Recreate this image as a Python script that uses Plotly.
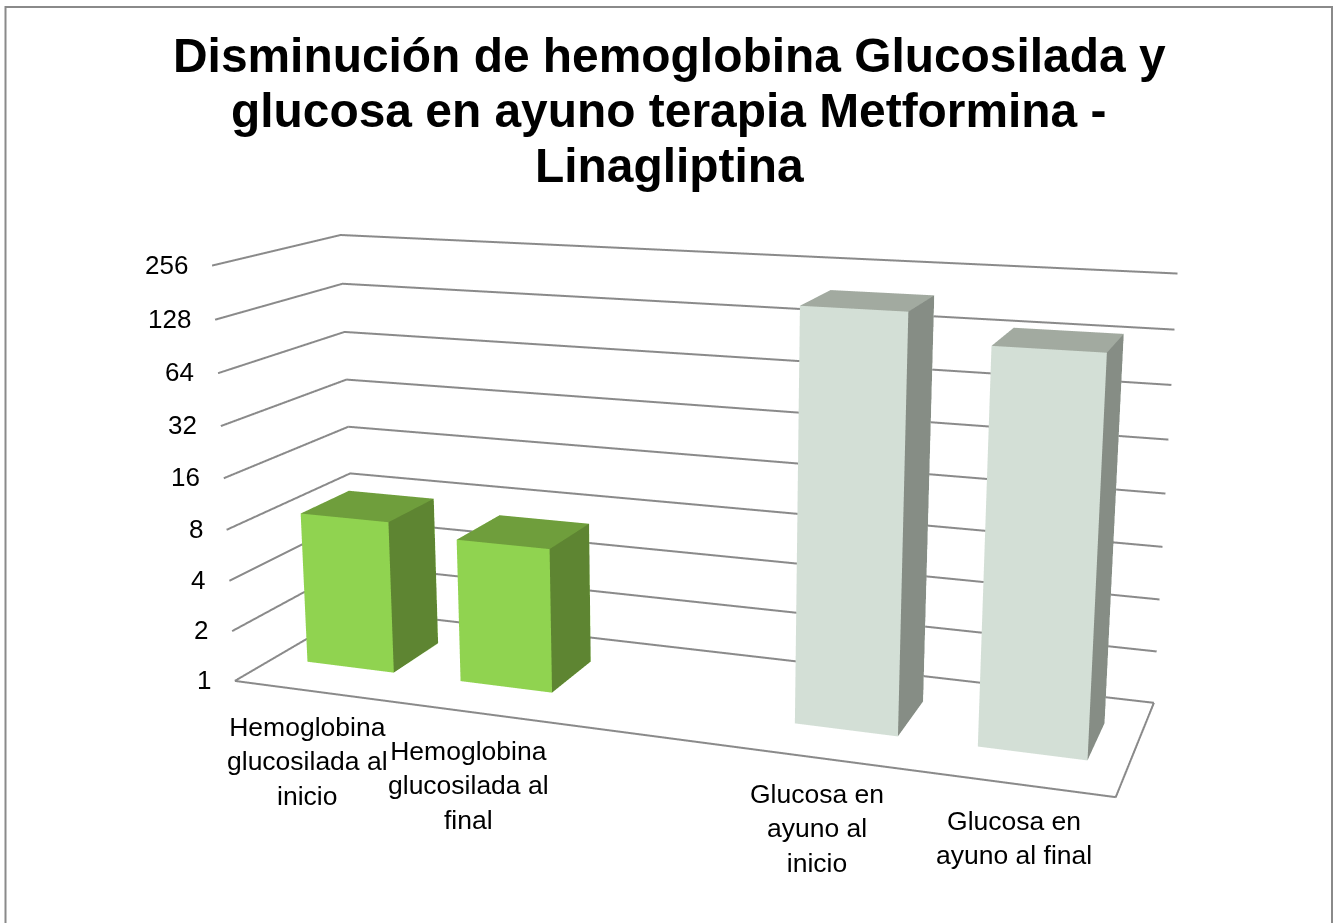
import numpy as np
import plotly.graph_objects as go

categories = ["Hemoglobina<br>glucosilada al<br>inicio", "Hemoglobina<br>glucosilada al<br>final", "", "Glucosa en<br>ayuno al<br>inicio", "Glucosa en<br>ayuno al final"]
values = [8.1, 7.0, None, 195, 138]
tick_values = [1, 2, 4, 8, 16, 32, 64, 128, 256]
title_lines = ["Disminución de hemoglobina Glucosilada y", "glucosa en ayuno terapia Metformina -", "Linagliptina"]

# The scene's field of view is fixed, so a long lens needs a tall scene centred on the window.
H_FIG = 1697
TOP = -387
def py(pix):
    return 1 - (pix - TOP) / H_FIG

GREEN = ("#90D350", "#6F9E3C", "#5E8532")
GREY = ("#D3DFD6", "#A2AAA0", "#868D85")
LINE = "#8a8a8a"
XL, W, Y0, Y1 = 0.221, 0.571, 0.308, 0.709
zmax = np.log2(tick_values[-1])

fig = go.Figure()
I = [0,0,4,4,0,0,1,1,3,3,0,0]
J = [1,2,5,6,1,5,2,6,2,6,3,7]
K = [2,3,6,7,5,4,6,5,6,7,7,4]
for i, v in enumerate(values):
    if v is None:
        continue
    h = float(np.log2(v))
    x0, x1 = i + XL, i + XL + W
    c = GREEN if i < 2 else GREY
    fc = [c[0]]*2 + [c[1]]*2 + [c[0]]*2 + [c[2]]*2 + [c[0]]*2 + [c[0]]*2
    fig.add_trace(go.Mesh3d(x=[x0,x1,x1,x0,x0,x1,x1,x0], y=[Y0,Y0,Y1,Y1,Y0,Y0,Y1,Y1], z=[0,0,0,0,h,h,h,h],
        i=I, j=J, k=K, facecolor=fc, flatshading=True, hoverinfo="skip",
        lighting=dict(ambient=1, diffuse=0, specular=0, roughness=1, fresnel=0)))
n = len(categories)
for t in tick_values:
    z = float(np.log2(t))
    fig.add_trace(go.Scatter3d(x=[0,0,n], y=[0,1,1], z=[z,z,z], mode="lines", line=dict(color=LINE, width=4), hoverinfo="skip", showlegend=False))
fig.add_trace(go.Scatter3d(x=[0,n,n], y=[0,0,1], z=[0,0,0], mode="lines", line=dict(color=LINE, width=4), hoverinfo="skip", showlegend=False))

ann = [dict(x=0, y=0, z=float(np.log2(t)), text=str(t), showarrow=False, xanchor="right", xshift=-22, yshift=1,
            font=dict(family="Liberation Sans", size=26, color="black")) for t in tick_values]
off = [(-4,-70), (-3,-73), None, (-5,-70), (-1,-54)]
for i, (c, o) in enumerate(zip(categories, off)):
    if o:
        ann.append(dict(x=i+.5, y=0, z=0, text=c, showarrow=False, xshift=o[0], yshift=o[1],
                        font=dict(family="Liberation Sans", size=26.5, color="black")))
ax = dict(showgrid=False, zeroline=False, showline=False, showticklabels=False, showbackground=False, showspikes=False, title=dict(text=""), ticks="")
paper = [dict(xref="paper", yref="paper", x=669/1341, y=py(cy), xanchor="center", yanchor="middle", showarrow=False,
              text="<b>%s</b>" % t, font=dict(family="Liberation Sans", size=47.9, color="black"))
         for t, cy in zip(title_lines, (55.7, 110.7, 165.7))]
fig.update_layout(width=1341, height=H_FIG, margin=dict(l=0,r=0,t=0,b=0), paper_bgcolor="white", showlegend=False, annotations=paper,
    scene=dict(domain=dict(x=[0,1], y=[0,1]), aspectmode="manual", aspectratio=dict(x=2.0865, y=0.5941, z=1),
        camera=dict(eye=dict(x=1.5536, y=-4.2959, z=1.1459), center=dict(x=-0.0351, y=-0.0100, z=0.0568),
                    up=dict(x=-0.0552, y=0.1567, z=1), projection=dict(type="perspective")),
        xaxis=dict(ax, range=[0,n]), yaxis=dict(ax, range=[0,1]), zaxis=dict(ax, range=[0,zmax]),
        annotations=ann),
    shapes=[dict(type="rect", xref="paper", yref="paper", x0=5.5/1341, x1=1332/1341, y0=py(960), y1=py(7), line=dict(color="#8a8a8a", width=2))])
fig.write_html("out.html", config={"displayModeBar": False},
    post_script="var g=document.getElementsByClassName('plotly-graph-div')[0];g.style.position='absolute';g.style.left='0';g.style.top='%dpx';document.documentElement.style.overflow='hidden';document.body.style.overflow='hidden';" % TOP)
